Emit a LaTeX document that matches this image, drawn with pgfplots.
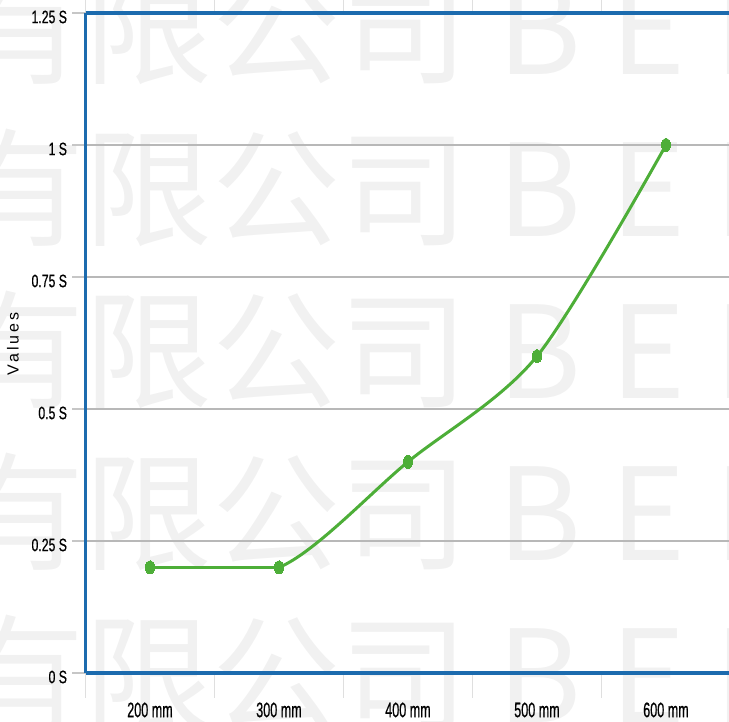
\documentclass[border=0pt]{standalone}
\usepackage{fontspec}
\setmainfont{Liberation Sans}
\newfontfamily\narrow{Liberation Sans}[FakeStretch=0.68, FakeBold=0.6]
\newfontfamily\narrowx{Liberation Sans}[FakeStretch=0.6, FakeBold=0.6]
\newfontfamily\cjk{Noto Sans CJK SC}
\usepackage{pgfplots}
\pgfplotsset{compat=1.18}
\definecolor{linegreen}{HTML}{4DAE38}
\definecolor{axisblue}{HTML}{1C6BAE}
\definecolor{gridgray}{HTML}{B8B8B8}
\definecolor{wmgray}{HTML}{F1F1F1}

\begin{document}
\begin{tikzpicture}[x=1pt,y=1pt]
    \useasboundingbox (0,0) rectangle (729,722);
    \clip (0,0) rectangle (729,722);
    % watermark rows
    \foreach \by in {647,485,323,161,-1}{
        \node[anchor=base west, inner sep=0pt, outer sep=0pt, text=wmgray,
              font=\cjk\fontsize{128}{128}\selectfont] at (-43,\by) {有限公司 B E I};
    }
    \begin{axis}[
        name=ax,
        at={(85.5pt,49pt)}, anchor=south west,
        scale only axis, width=645pt, height=660pt,
        xmin=-0.5, xmax=4.5, ymin=0, ymax=1.25,
        axis line style={draw=none},
        xtick={-0.5,0.5,1.5,2.5,3.5,4.5},
        x tick label as interval,
        xticklabels={200 mm,300 mm,400 mm,500 mm,600 mm},
        ytick={0,0.25,0.5,0.75,1,1.25},
        yticklabels={0 S,0.25 S,0.5 S,0.75 S,1 S,1.25 S},
        tick align=outside,
        major tick length=13pt,
        xtick style={draw=gray!25, line width=1.2pt, /pgfplots/major tick length=25pt},
        ytick style={draw=gray!45, line width=1.5pt},
        ymajorgrids,
        major grid style={draw=gridgray, line width=2pt},
        yticklabel style={font=\narrow\fontsize{18}{18}\selectfont, xshift=-2pt, yshift=-4pt},
        xticklabel style={font=\narrowx\fontsize{21}{21}\selectfont, yshift=-13pt},
        clip=false,
    ]
        \addplot[linegreen, line width=3pt, mark=*, mark size=6.5pt,
                 mark options={xscale=0.7, fill=linegreen, draw=linegreen, line width=0pt}]
            coordinates {(0,0.2) (1,0.2)};
        \begin{scope}
            \clip (axis cs:1,-0.5) rectangle (axis cs:5,2);
            \addplot[linegreen, line width=3pt, smooth, mark=*, mark size=6.5pt,
                     mark options={xscale=0.7, fill=linegreen, draw=linegreen, line width=0pt}]
                coordinates {(0,0.2) (1,0.2) (2,0.4) (3,0.6) (4,1.0)};
        \end{scope}
    \end{axis}
    \draw[axisblue, line width=2.7pt] (ax.south west) -- (ax.north west);
    \draw[axisblue, line width=4.5pt] (ax.north west) -- (ax.north east);
    \draw[axisblue, line width=3.3pt] (ax.south west) -- (ax.south east);
    \node[rotate=90, inner sep=0pt, font=\fontsize{16}{16}\selectfont\addfontfeatures{LetterSpace=18}] at (13,378) {Values};
\end{tikzpicture}
\end{document}
